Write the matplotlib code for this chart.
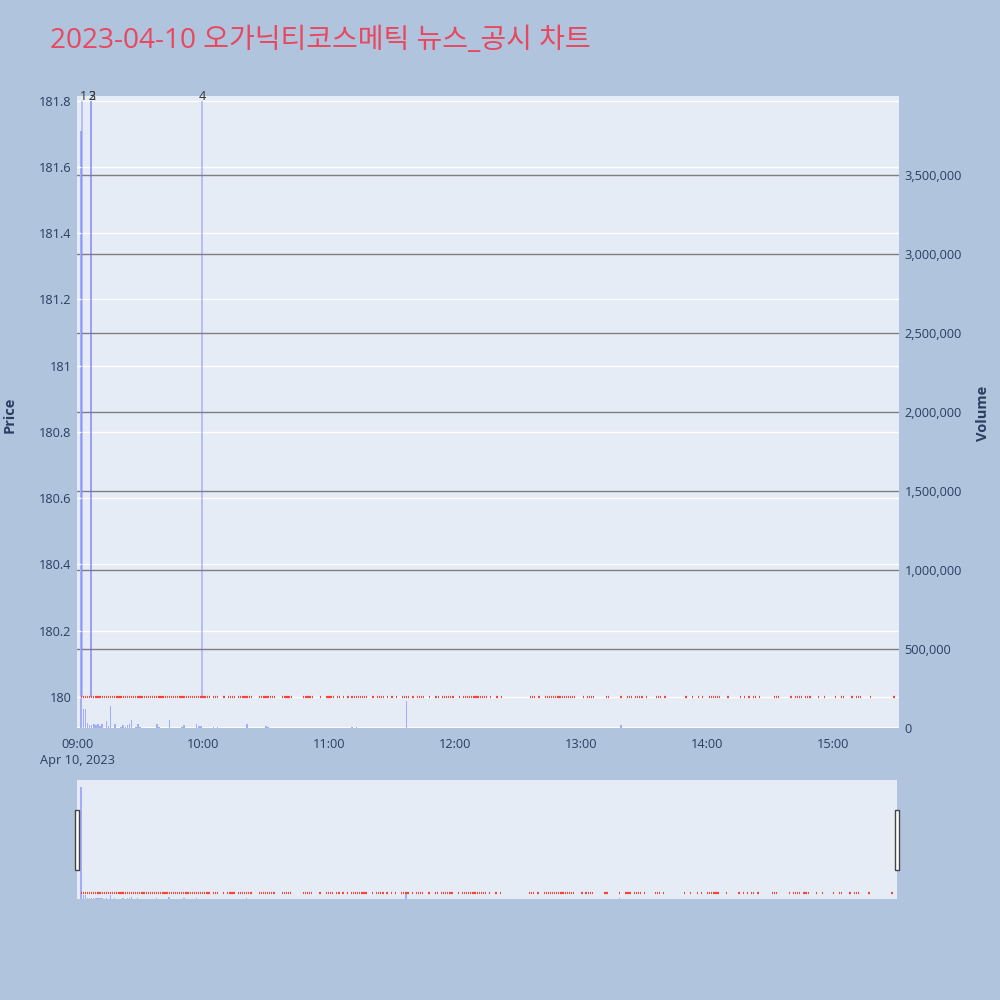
import datetime as dt
import matplotlib
matplotlib.use("Agg")
import matplotlib.pyplot as plt
import matplotlib.transforms as mtrans
from matplotlib.patches import Rectangle

plt.rcParams['font.family'] = ['Open Sans', 'Noto Sans CJK KR', 'DejaVu Sans']

TITLE = "2023-04-10 오가닉티코스메틱 뉴스_공시 차트"
DAY = dt.datetime(2023, 4, 10, 9, 0)

# minutes after 09:00 with trades (inclusive ranges), all at price 180
TRADE_RANGES = [(2, 55), (56, 63), (65, 67), (70, 70), (72, 75), (77, 78), (79, 83), (87, 94),
                (98, 102), (108, 112), (116, 116), (119, 122), (124, 125), (127, 127), (129, 129),
                (131, 138), (141, 141), (143, 146), (148, 148), (150, 150), (152, 152), (155, 158),
                (160, 160), (162, 165), (168, 168), (171, 172), (174, 179), (182, 182), (184, 195),
                (197, 197), (200, 200), (202, 202), (216, 218), (220, 220), (223, 237), (241, 241),
                (243, 246), (252, 253), (259, 259), (262, 264), (266, 269), (271, 271), (276, 278),
                (280, 280), (290, 290), (293, 293), (296, 296), (298, 298), (301, 306), (310, 310),
                (316, 316), (318, 318), (320, 320), (322, 323), (325, 325), (332, 334), (340, 340),
                (342, 345), (347, 349), (353, 353), (356, 356), (361, 361), (364, 365), (369, 369),
                (371, 373), (378, 378), (389, 389)]
PRICE = 180

# readable volumes per minute; other trade minutes are tiny
VOLUME_MAIN = {2: 3780000, 3: 122000, 4: 122000, 5: 31000, 6: 23000, 7: 23000, 8: 27000,
               9: 23000, 10: 29000, 11: 17000, 12: 25000, 14: 44000, 15: 13000, 16: 139000,
               18: 27000, 21: 8000, 22: 19000, 23: 8000, 24: 23000, 25: 25000, 26: 51000,
               28: 8000, 29: 27000, 30: 8000, 33: 4000, 36: 4000, 38: 25000, 39: 11000,
               42: 4000, 44: 51000, 45: 4000, 47: 4000, 50: 11000, 51: 23000, 57: 29000,
               58: 13000, 59: 15000, 65: 8000, 67: 8000, 72: 4000, 81: 25000, 90: 13000,
               91: 8000, 93: 4000, 100: 4000, 116: 4000, 120: 3000, 127: 3000, 131: 8000,
               133: 6000, 135: 4000, 144: 3000, 145: 3000, 157: 175000, 168: 3000, 171: 3000,
               192: 4000, 202: 3000, 216: 4000, 225: 3000, 231: 4000, 236: 4000, 252: 3000,
               259: 18000, 267: 2000, 305: 4000, 323: 4000, 340: 3000, 342: 3000, 347: 2000,
               371: 2000}
VOLUME_SMALL = 1000

# news / disclosure markers (minutes after 09:00)
NEWS_LABELS = ["1", "2", "3", "4"]
NEWS_MINUTES = [2.6, 6.7, 6.8, 59.3]

PRICE_RANGE = (179.905, 181.814)
VOLUME_RANGE = (0, 4000000)
X_END_MIN = 391.4

BG = "#B0C4DE"
PLOT_BG = "#E5ECF6"
TXT = "#2a3f5f"
UP = "#FF4136"
VOL_C = "#A4ADF8"
NEWS_C = "#636efa"


def t(m):
    return DAY + dt.timedelta(minutes=m)


minutes = [m for a, b in TRADE_RANGES for m in range(a, b + 1)]
times = [t(m) for m in minutes]
vols = [VOLUME_MAIN.get(m, VOLUME_SMALL) for m in minutes]
one_min = 1 / 1440

fig = plt.figure(figsize=(10, 10), dpi=100, facecolor=BG)

fig.text(0.050, 0.959, TITLE, fontsize=20.2, color="#E8485F", va="center", ha="left")


def draw(axv, axp, main=True):
    axv.set_facecolor(PLOT_BG)
    axp.patch.set_visible(False)
    axp.set_zorder(axv.get_zorder() + 1)
    for a in (axv, axp):
        for s in a.spines.values():
            s.set_visible(False)
    axv.bar(times, vols, width=one_min * 0.7, color=VOL_C, zorder=3, linewidth=0)
    axp.hlines([PRICE] * len(times), [d - dt.timedelta(seconds=18) for d in times],
               [d + dt.timedelta(seconds=18) for d in times], color=UP, lw=1.6, zorder=4)
    axv.set_ylim(*VOLUME_RANGE)
    axp.set_ylim(*PRICE_RANGE)
    axp.set_xlim(t(0), t(X_END_MIN))
    axv.set_xlim(t(0), t(X_END_MIN))
    if main:
        for v in range(0, 4000000, 500000):
            if v == 0:
                axv.axhline(v, color="white", lw=2, zorder=2)
            else:
                axv.axhline(v, color="#7f7f7f", lw=1, zorder=1)
        p = 180.0
        while p < 181.85:
            axp.axhline(p, color="white", lw=1, zorder=0)
            p += 0.2


ax_v = fig.add_axes([0.077, 0.2717, 0.822, 0.6323])
ax_p = ax_v.twinx()
draw(ax_v, ax_p)

for lab, m in zip(NEWS_LABELS, NEWS_MINUTES):
    ax_p.vlines(t(m), PRICE, 181.8, color=NEWS_C, lw=1.3, alpha=0.4, zorder=5)
tr = mtrans.blended_transform_factory(ax_p.transData, ax_p.transAxes)
for lab, m in zip(NEWS_LABELS, NEWS_MINUTES):
    ax_p.text(t(m + 0.3), 1.0, lab, transform=tr, ha="center", va="center",
              fontsize=9, color="#333333", clip_on=False, zorder=6)

# price axis on the left, volume on the right
ax_p.yaxis.tick_left()
ax_v.yaxis.tick_right()
pticks = [180, 180.2, 180.4, 180.6, 180.8, 181, 181.2, 181.4, 181.6, 181.8]
ax_p.set_yticks(pticks)
ax_p.set_yticklabels([("%g" % v) for v in pticks])
vticks = list(range(0, 4000000, 500000))
ax_v.set_yticks(vticks)
ax_v.set_yticklabels(["{:,}".format(v) for v in vticks])
for a in (ax_p, ax_v):
    a.tick_params(axis="y", length=0, labelsize=9.2, labelcolor=TXT, pad=4)
ax_p.tick_params(axis="x", bottom=False, labelbottom=False)

xt = [t(60 * h) for h in range(7)]
ax_v.set_xticks(xt)
xlabels = [d.strftime("%H:%M") for d in xt]
xlabels[0] = "09:00\nApr 10, 2023"
ax_v.set_xticklabels(xlabels, linespacing=1.25, va="top")
ax_v.tick_params(axis="x", length=0, labelsize=9.2, labelcolor=TXT, pad=7)

fig.text(0.010, 0.585, "Price", rotation=90, fontsize=10.5, fontweight="bold",
         color=TXT, ha="center", va="center")
fig.text(0.983, 0.587, "Volume", rotation=90, fontsize=10.5, fontweight="bold",
         color=TXT, ha="center", va="center")

# range slider
rs_v = fig.add_axes([0.077, 0.101, 0.820, 0.119])
rs_p = rs_v.twinx()
draw(rs_v, rs_p, main=False)
for a in (rs_v, rs_p):
    a.set_xticks([])
    a.set_yticks([])

for hx in (0.0745, 0.8945):
    fig.patches.append(Rectangle((hx, 0.130), 0.004, 0.060, transform=fig.transFigure,
                                 facecolor="white", edgecolor="#444444", lw=1))

fig.savefig("out.png", dpi=100, facecolor=BG)
